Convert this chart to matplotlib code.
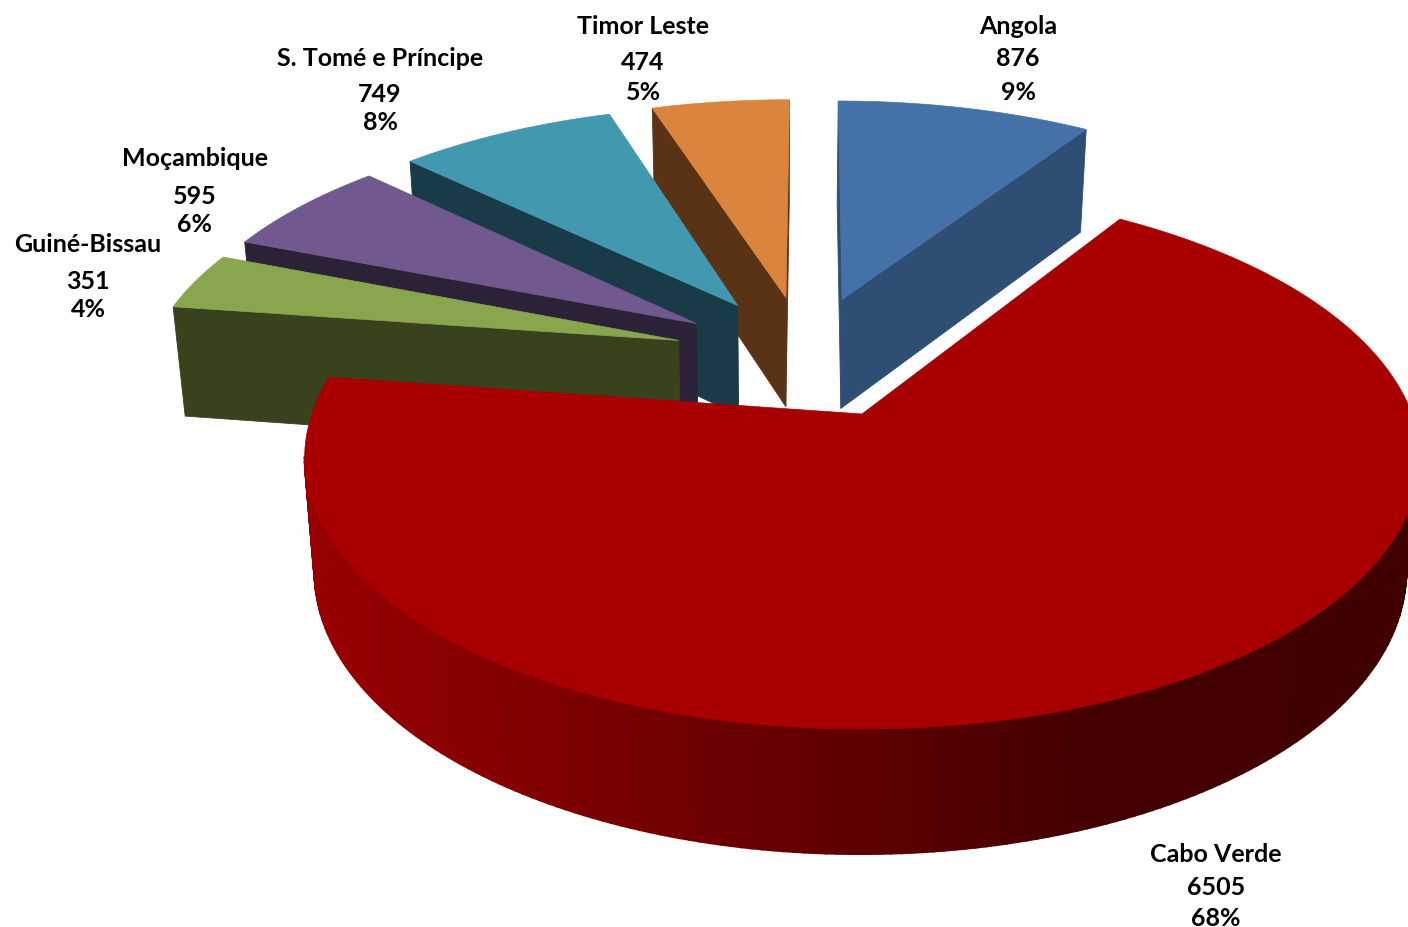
import numpy as np
import matplotlib
matplotlib.use("Agg")
import matplotlib.pyplot as plt

# data, in pie order (clockwise from 12 o'clock)
countries = ["Angola", "Cabo Verde", "Guiné-Bissau", "Moçambique", "S. Tomé e Príncipe", "Timor Leste"]
students = [876, 6505, 351, 595, 749, 474]

# styles
top_colors = ["#4472a8", "#a80000", "#89a54e", "#71588f", "#4198af", "#db843d"]
wall_colors = ["#2e4e74", "#8b0000", "#38421c", "#2c2238", "#193b48", "#5a3317"]
draw_order = [0, 5, 4, 3, 2, 1]

# label centres, pixels from top left: x, then y of the three lines
label_x = [1018, 1216, 88, 195, 380, 643]
label_y = [(26, 58, 92), (855, 888, 919), (245, 282, 310),
           (159, 196, 224), (59, 95, 123), (26, 63, 93)]

# view fitted to the picture
CX, CY = 862, 415
A, B, K = 550, 264, 0.162
SHEAR = -8
EXPLODE = 0.25
VP_X, VP_DIST = 780, 5500


def project(x, y):
    w = 1 + K * y
    return CX + (A * x + SHEAR * np.maximum(y, 0)) / w, CY - B * y / w


def drop(sx, sy):
    # bottom edge: height grows towards the viewer, sides lean to the middle
    h = 98 + 0.037 * sy
    return sx + (VP_X - sx) * h / VP_DIST, sy + h


total = sum(students)
edges = np.concatenate([[0], np.cumsum(students)]) / total * 2 * np.pi
mids = (edges[:-1] + edges[1:]) / 2
big = int(np.argmax(students))

fig = plt.figure(figsize=(14.08, 9.28), dpi=100)
ax = fig.add_axes([0, 0, 1, 1])
ax.set_xlim(0, 1408)
ax.set_ylim(928, 0)
ax.axis("off")


def rim_shade(sx):
    r = np.interp(sx, [310, 600, 860, 1100, 1420], [0x98, 0x7a, 0x5e, 0x44, 0x40])
    return (r / 255, 0, 0)


def wall(p, q, color, lw=0.6):
    xs = [p[0], q[0], drop(*q)[0], drop(*p)[0]]
    ys = [p[1], q[1], drop(*q)[1], drop(*p)[1]]
    ax.fill(xs, ys, color=color, lw=lw)


for i in draw_order:
    ox = EXPLODE * (np.sin(mids[i]) - np.sin(mids[big]))
    oy = EXPLODE * (np.cos(mids[i]) - np.cos(mids[big]))
    theta = np.linspace(edges[i], edges[i + 1], max(int((edges[i + 1] - edges[i]) * 60), 24))
    sx, sy = project(ox + np.sin(theta), oy + np.cos(theta))
    apex = project(ox, oy)

    # walls facing the viewer: the two radial cuts and the outer rim
    if sx[0] < apex[0] - 2:
        wall(apex, (sx[0], sy[0]), wall_colors[i])
    if sx[-1] > apex[0] + 2:
        wall((sx[-1], sy[-1]), apex, wall_colors[i])
    for j in range(len(theta) - 1):
        if sx[j + 1] < sx[j]:
            wall((sx[j], sy[j]), (sx[j + 1], sy[j + 1]), rim_shade(sx[j]), lw=1.4)

    ax.fill(np.r_[apex[0], sx], np.r_[apex[1], sy], color=top_colors[i], lw=0.5)

for name, n, x, ys in zip(countries, students, label_x, label_y):
    lines = [name, str(n), f"{n / total * 100:.0f}%"]
    for line, y in zip(lines, ys):
        ax.text(x, y, line, ha="center", va="center", fontsize=18,
                fontweight="bold", family="Lato", color="black")

fig.savefig("out.png", dpi=100)
